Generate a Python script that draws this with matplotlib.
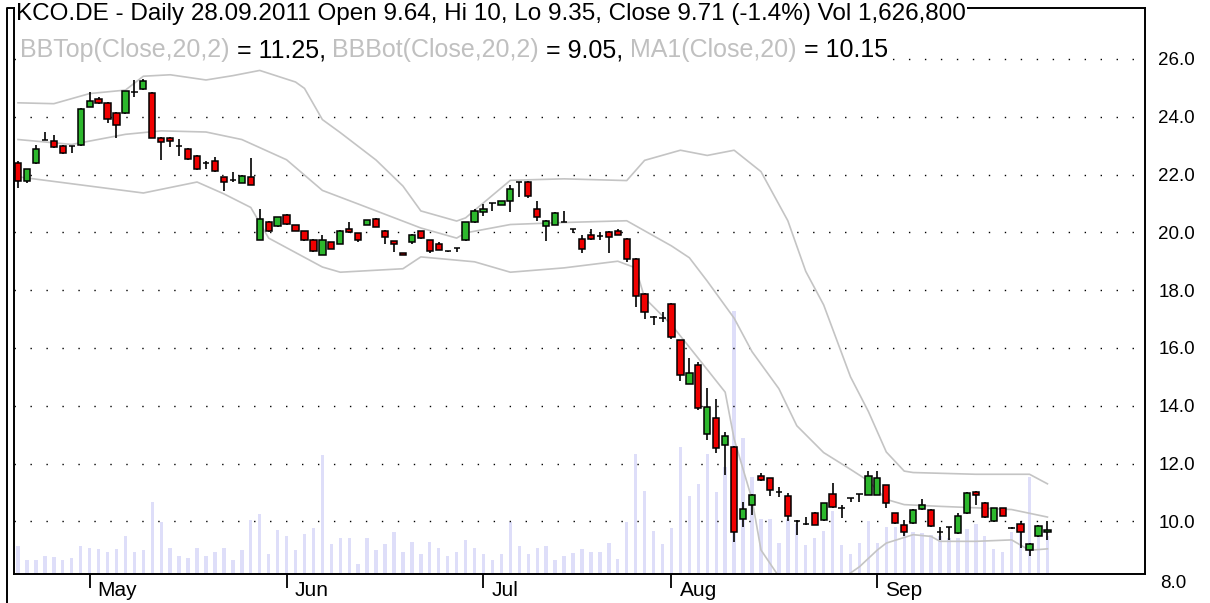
import numpy as np
import matplotlib.pyplot as plt
from matplotlib.lines import Line2D
from matplotlib.transforms import ScaledTranslation, blended_transform_factory

plt.rcParams['font.family'] = ['Liberation Sans', 'DejaVu Sans']

# === Daily candles, 18.04.2011 - 28.09.2011 (one entry per trading day) ===
opens = [22.39, 21.76, 22.40, 23.18, 23.15, 23.00, 23.00, 23.02, 24.35, 24.61,
         24.47, 24.12, 24.13, 24.85, 24.96, 24.82, 23.28, 23.28, 22.97, 22.88,
         22.65, 22.40, 22.47, 21.90, 21.81, 21.71, 21.90, 19.75, 20.37, 20.21,
         20.60, 20.24, 20.04, 19.75, 19.23, 19.66, 19.60, 20.12, 19.97, 20.27,
         20.47, 20.06, 19.69, 19.27, 19.66, 20.04, 19.72, 19.58, 19.35, 19.46,
         19.72, 20.35, 20.70, 21.00, 20.96, 21.10, 21.73, 21.73, 20.81, 20.21,
         20.27, 20.35, 20.10, 19.77, 19.91, 19.87, 20.00, 20.06, 19.77, 19.08,
         17.85, 17.07, 17.04, 17.51, 16.26, 14.77, 15.42, 13.02, 13.58, 12.63,
         12.59, 10.09, 10.58, 11.58, 11.49, 11.03, 10.88, 10.00, 9.92, 10.29,
         10.05, 10.96, 10.46, 10.80, 10.95, 10.92, 10.92, 11.25, 10.28, 9.88,
         9.94, 10.43, 10.40, 9.63, 9.80, 9.60, 10.29, 11.03, 10.63, 10.00,
         10.45, 9.77, 9.90, 9.02, 9.48, 9.64]
highs = [22.48, 22.20, 23.02, 23.46, 23.37, 23.02, 23.00, 24.30, 24.84, 24.67,
         24.50, 24.15, 24.90, 25.28, 25.30, 24.85, 23.30, 23.30, 23.23, 22.92,
         22.68, 22.48, 22.59, 21.92, 22.10, 21.98, 22.56, 20.81, 20.40, 20.52,
         20.62, 20.26, 20.06, 19.78, 19.90, 19.68, 20.08, 20.35, 19.99, 20.43,
         20.49, 20.08, 19.71, 19.27, 19.95, 20.06, 19.75, 19.66, 19.37, 19.46,
         20.37, 20.80, 20.99, 21.00, 21.10, 21.65, 21.75, 21.77, 21.10, 20.41,
         20.69, 20.75, 20.10, 19.89, 20.12, 20.00, 20.04, 20.12, 19.80, 19.10,
         17.90, 17.10, 17.24, 17.55, 16.28, 15.64, 15.50, 14.63, 14.22, 13.09,
         12.62, 10.67, 10.95, 11.66, 11.51, 11.20, 10.97, 10.06, 10.15, 10.31,
         10.65, 11.33, 10.56, 10.82, 10.96, 11.74, 11.74, 11.27, 10.29, 10.06,
         10.42, 10.77, 10.42, 9.82, 9.82, 10.30, 11.00, 11.06, 10.66, 10.48,
         10.48, 9.79, 10.00, 9.25, 9.88, 10.00]
lows = [21.55, 21.70, 22.38, 23.18, 22.92, 22.72, 22.74, 23.00, 24.33, 24.45,
        23.77, 23.26, 24.10, 24.67, 24.93, 23.25, 22.51, 22.95, 22.65, 22.50,
        22.17, 22.19, 22.10, 21.42, 21.73, 21.70, 21.62, 19.75, 20.00, 20.20,
        20.27, 20.04, 19.70, 19.33, 19.20, 19.41, 19.58, 19.98, 19.68, 20.25,
        20.18, 19.60, 19.31, 19.22, 19.60, 19.78, 19.30, 19.38, 19.33, 19.31,
        19.70, 20.33, 20.58, 20.75, 20.94, 20.70, 21.22, 21.20, 20.39, 19.69,
        20.25, 20.35, 19.97, 19.28, 19.75, 19.72, 19.28, 19.90, 18.97, 17.41,
        17.00, 16.80, 16.90, 16.30, 14.84, 14.75, 13.87, 12.83, 12.36, 11.60,
        9.30, 9.80, 10.23, 11.40, 10.88, 10.83, 10.02, 9.54, 9.89, 9.87,
        10.02, 10.45, 10.11, 10.66, 10.68, 10.90, 10.90, 10.45, 9.90, 9.50,
        9.92, 10.41, 9.80, 9.35, 9.35, 9.58, 10.25, 10.58, 10.12, 9.98,
        10.18, 9.75, 9.07, 8.80, 9.45, 9.35]
closes = [21.79, 22.19, 22.88, 23.18, 22.94, 22.75, 23.00, 24.27, 24.53, 24.47,
          23.92, 23.72, 24.90, 24.85, 25.25, 23.28, 23.11, 23.17, 22.97, 22.53,
          22.19, 22.40, 22.13, 21.73, 21.81, 21.96, 21.64, 20.47, 20.06, 20.52,
          20.29, 20.06, 19.75, 19.35, 19.72, 19.43, 20.06, 20.00, 19.75, 20.41,
          20.20, 19.85, 19.60, 19.22, 19.92, 19.80, 19.35, 19.40, 19.35, 19.46,
          20.35, 20.75, 20.81, 21.00, 21.08, 21.50, 21.73, 21.24, 20.52, 20.39,
          20.67, 20.35, 20.10, 19.43, 19.77, 19.87, 19.85, 19.92, 19.08, 17.78,
          17.24, 17.07, 17.04, 16.37, 15.07, 15.15, 13.93, 13.95, 12.53, 12.94,
          9.63, 10.44, 10.93, 11.42, 11.10, 11.03, 10.20, 10.00, 9.92, 9.89,
          10.62, 10.51, 10.46, 10.80, 10.95, 11.58, 11.51, 10.63, 9.93, 9.65,
          10.40, 10.55, 9.83, 9.63, 9.80, 10.19, 10.97, 10.92, 10.16, 10.45,
          10.20, 9.77, 9.65, 9.22, 9.84, 9.71]
# volume in thousands of shares
volumes = [1200, 600, 600, 770, 730, 600, 680, 1200, 1110, 1070,
           940, 1070, 1630, 940, 1030, 3080, 2230, 1110, 770, 680,
           1110, 770, 940, 1110, 600, 1030, 2310, 2570, 860, 1880,
           1630, 1030, 1710, 1970, 5090, 1280, 1540, 1540, 430, 1540,
           1030, 1280, 1800, 940, 1370, 860, 1370, 1110, 770, 940,
           1460, 1110, 860, 600, 860, 2230, 1200, 860, 1110, 1200,
           600, 770, 920, 1090, 940, 940, 1350, 660, 2230, 5160,
           3570, 1860, 1280, 1970, 5450, 3340, 3850, 5160, 3510, 4580,
           11300, 5820, 4150, 2370, 2370, 1350, 2370, 2160, 1260, 1540,
           1860, 2720, 1260, 840, 1350, 2290, 1350, 2030, 2030, 1840,
           1800, 1760, 1670, 1630, 1540, 1540, 1930, 2140, 1630, 1090,
           940, 1800, 1760, 4150, 1630, 1627]

# Bollinger bands (20,2) and 20-day MA, read at selected days
bb_top_days = [0, 4, 8, 12, 14, 17, 21, 24, 27, 31, 32, 34, 36, 40, 43, 45, 49, 50,
               55, 61, 68, 70, 74, 77, 80, 83, 86, 88, 90, 93, 95, 97, 99, 100,
               107, 113, 115]
bb_top = [24.48, 24.45, 24.80, 24.92, 25.40, 25.45, 25.27, 25.42, 25.60, 25.20,
          24.98, 23.90, 23.45, 22.50, 21.60, 20.74, 20.39, 20.50, 21.80, 21.85,
          21.79, 22.49, 22.84, 22.66, 22.84, 22.10, 20.40, 18.65, 17.49, 15.00,
          13.80, 12.40, 11.74, 11.69, 11.63, 11.63, 11.30]
ma_days = [0, 6, 12, 16, 21, 25, 30, 34, 38, 45, 49, 50, 55, 61, 68, 73, 75, 77,
           80, 82, 85, 87, 90, 93, 95, 97, 99, 103, 107, 111, 115]
ma20 = [23.21, 23.04, 23.39, 23.51, 23.47, 23.21, 22.51, 21.45, 20.98, 20.15,
        19.80, 19.98, 20.27, 20.34, 20.40, 19.53, 19.12, 18.31, 17.03, 15.87,
        14.59, 13.31, 12.38, 11.80, 11.40, 10.76, 10.58, 10.52, 10.47, 10.41, 10.15]
bb_bot_days = [0, 6, 14, 20, 23, 26, 28, 34, 36, 43, 45, 51, 55, 61, 67, 69, 70,
               73, 76, 79, 80, 82, 83, 85, 87, 90, 92, 94, 96, 97, 100, 102, 103,
               107, 111, 113, 115]
bb_bot = [21.92, 21.68, 21.36, 21.74, 21.33, 20.86, 19.80, 18.80, 18.62, 18.74,
          19.15, 18.98, 18.62, 18.77, 19.00, 18.77, 17.73, 16.80, 15.64, 14.47,
          12.85, 10.76, 9.01, 8.09, 7.50, 7.40, 8.00, 8.43, 9.01, 9.25,
          9.54, 9.48, 9.31, 9.31, 9.36, 9.00, 9.05]

month_labels = ['May', 'Jun', 'Jul', 'Aug', 'Sep']
month_start = [8, 30, 52, 73, 96]
price_ticks = [10, 12, 14, 16, 18, 20, 22, 24, 26]

header = ('KCO.DE - Daily 28.09.2011 Open 9.64, Hi 10, Lo 9.35, '
          'Close 9.71 (-1.4%) Vol 1,626,800')
legend_parts = [('BBTop(Close,20,2)', '#c0c0c0'), (' = 11.25, ', 'black'),
                ('BBBot(Close,20,2)', '#c0c0c0'), (' = 9.05, ', 'black'),
                ('MA1(Close,20)', '#c0c0c0'), (' = 10.15', 'black')]

W, H = 1210, 603
FS = 13.5        # price labels
FS_HEAD = 17.5   # header
FS_LEG = 18      # indicator line
FS_MONTH = 15
o, h, l, c = map(np.array, (opens, highs, lows, closes))
x = np.arange(len(o))

fig = plt.figure(figsize=(W / 100, H / 100), dpi=100)
ax = fig.add_axes([14 / W, (H - 574) / H, (1145 - 14) / W, (574 - 8) / H])

# volume behind the candles
vax = ax.twinx()
vax.bar(x, volumes, width=0.38, color='#dedef9', linewidth=0)
vax.set_ylim(0, max(volumes) * 2.15)
vax.set_yticks([])
for s in vax.spines.values():
    s.set_visible(False)
ax.set_zorder(vax.get_zorder() + 1)
ax.patch.set_visible(False)

# bands
ax.plot(bb_top_days, bb_top, color='#c4c4c4', lw=1.2, zorder=2)
ax.plot(ma_days, ma20, color='#c4c4c4', lw=1.2, zorder=2)
ax.plot(bb_bot_days, bb_bot, color='#c4c4c4', lw=1.2, zorder=2)

# candles
body_col = np.where(c > o, '#2db82d', '#f00000')
ax.vlines(x, l, h, color='black', lw=1.2, zorder=3)
ax.bar(x, c - o, bottom=o, width=0.7, color=body_col, edgecolor='black',
       linewidth=1.1, zorder=4)

ax.set_xlim(-0.45, 125.9)
ax.set_ylim(8.18, 27.76)

# grid & axes
ax.set_axisbelow(True)
ax.grid(axis='y', color='black', linestyle=(0, (1, 10.5)), linewidth=1.0)
ax.yaxis.tick_right()
ax.set_yticks(price_ticks)
ax.set_yticklabels([f'{p:.1f}' for p in price_ticks], fontsize=FS)
ax.tick_params(axis='y', length=0, pad=9.5)
ax.annotate('8.0', xy=(1, 8.0), xycoords=('axes fraction', 'data'),
            xytext=(11, -3), textcoords='offset points', va='center',
            fontsize=FS, annotation_clip=False)

ax.set_xticks(month_start)
ax.set_xticklabels(month_labels, fontsize=FS_MONTH, ha='left')
ax.tick_params(axis='x', direction='out', length=10, width=1.3, pad=0)
shift = ScaledTranslation(0.08, 0.07, fig.dpi_scale_trans)
for lab in ax.get_xticklabels():
    lab.set_transform(lab.get_transform() + shift)

for s in ax.spines.values():
    s.set_linewidth(1.4)
    s.set_color('black')

# outer frame line on the left
fig.add_artist(Line2D([7 / W, 7 / W, 14 / W], [0, 1 - 8 / H, 1 - 8 / H],
                      transform=fig.transFigure, color='black', lw=1.4))

# header on the top border
fig.text(16 / W, 1 - 14 / H, header, fontsize=FS_HEAD, va='center', ha='left',
         bbox=dict(facecolor='white', edgecolor='none', pad=1.0))

# indicator legend on the 26.0 row
trans = blended_transform_factory(ax.transAxes, ax.transData)
prev = None
for txt, col in legend_parts:
    kw = dict(fontsize=FS_LEG, color=col,
              bbox=dict(facecolor='white', edgecolor='none', pad=1.0))
    if prev is None:
        prev = ax.text(6 / 1131, 26.05, txt, transform=trans, va='baseline', **kw)
    else:
        prev = ax.annotate(txt, xy=(1, 0), xycoords=prev, va='bottom', **kw)

plt.savefig('out.png', dpi=100)
